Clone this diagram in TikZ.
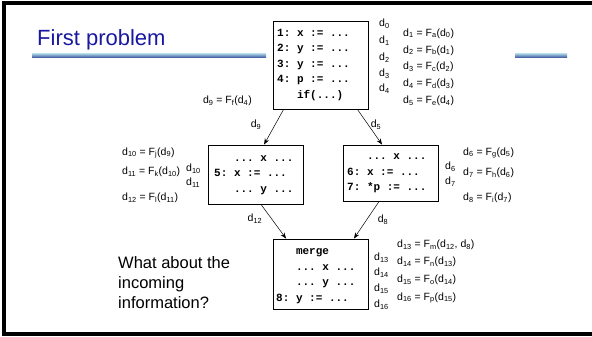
\documentclass[tikz,border=0pt]{standalone}
\usepackage{fontspec}
\setmainfont{Liberation Sans}
\setmonofont{Liberation Mono}
\usetikzlibrary{arrows.meta}
\newcommand\dsub[1]{d\textsubscript{#1}}
\newcommand\Fsub[1]{F\textsubscript{#1}}
\definecolor{titleblue}{RGB}{24,24,160}
\definecolor{linelight}{RGB}{170,210,228}
\definecolor{linedark}{RGB}{60,90,160}
\tikzset{
  lbl/.style={font=\fontsize{10.5}{12}\selectfont, inner sep=0pt, anchor=west},
  cbox/.style={draw=black, line width=0.9pt, minimum width=95pt, inner sep=0pt},
  code/.style={font=\fontsize{11}{15.5}\selectfont\ttfamily\bfseries, align=left, inner sep=0pt, anchor=west},
  flow/.style={line width=0.5pt, -{Stealth[length=6pt,width=4.5pt]}},
}
\begin{document}
\begin{tikzpicture}[x=1pt,y=-1pt]
\useasboundingbox (0,0) rectangle (592,337);
% frame
\draw[line width=4pt, line cap=butt, line join=miter] (592,3.5) -- (4,3.5) -- (4,334) -- (592,334);
% title
\node[anchor=base west, inner sep=0pt, text=titleblue, font=\fontsize{22}{24}\selectfont] (title) at (37,46) {First problem};
\shade[top color=linelight, bottom color=linedark] (32,53.5) rectangle (266,57.5);
\shade[top color=linelight, bottom color=linedark] (515,53.5) rectangle (567,57.5);
% boxes
\node[cbox, minimum height=88pt] (b1) at (320.5,65) {};
\node[code] (c1) at (277,65) {1:~x~:=~...\\2:~y~:=~...\\3:~y~:=~...\\4:~p~:=~...\\~~~if(...)};
\node[cbox, minimum height=59pt] (b5) at (256,174.5) {};
\node[code] (c5) at (214,175) {~~~...~x~...\\5:~x~:=~...\\~~~...~y~...};
\node[cbox, minimum height=56pt] (b6) at (391,173) {};
\node[code] (c6) at (347,173.5) {~~~...~x~...\\6:~x~:=~...\\7:~*p~:=~...};
\node[cbox, minimum height=70pt] (bm) at (321,274) {};
\node[code] (cm) at (276,276) {~~~merge\\~~~...~x~...\\~~~...~y~...\\8:~y~:=~...};
% arrows
\draw[flow] ([xshift=11pt]b1.south west) -- ([xshift=56pt]b5.north west);
\draw[flow] ([xshift=-11pt]b1.south east) -- ([xshift=39pt]b6.north west);
\draw[flow] ([xshift=53pt]b5.south west) -- ([xshift=13pt]bm.north west);
\draw[flow] ([xshift=36pt]b6.south west) -- ([xshift=-15pt]bm.north east);
% top box labels
\node[lbl] (d0) at (379,24) {\dsub{0}};
\node[lbl] (d1) at (379,41) {\dsub{1}};
\node[lbl] (d2) at (379,57.5) {\dsub{2}};
\node[lbl] (d3) at (379,73.5) {\dsub{3}};
\node[lbl] (d4) at (379,89) {\dsub{4}};
\node[lbl] (e1) at (403,33.5) {\dsub{1} = \Fsub{a}(\dsub{0})};
\node[lbl] (e2) at (403,50.3) {\dsub{2} = \Fsub{b}(\dsub{1})};
\node[lbl] (e3) at (403,67.1) {\dsub{3} = \Fsub{c}(\dsub{2})};
\node[lbl] (e4) at (403,83.9) {\dsub{4} = \Fsub{d}(\dsub{3})};
\node[lbl] (e5) at (403,100.7) {\dsub{5} = \Fsub{e}(\dsub{4})};
\node[lbl, anchor=east] (e9) at (252,101) {\dsub{9} = \Fsub{f}(\dsub{4})};
\node[lbl, anchor=center] (d9) at (256,125) {\dsub{9}};
\node[lbl, anchor=center] (d5) at (376,125) {\dsub{5}};
% box 5 labels
\node[lbl] (e10) at (122,153) {\dsub{10} = \Fsub{j}(\dsub{9})};
\node[lbl] (e11) at (122,172) {\dsub{11} = \Fsub{k}(\dsub{10})};
\node[lbl] (e12) at (122,198) {\dsub{12} = \Fsub{l}(\dsub{11})};
\node[lbl] (d10) at (186,169) {\dsub{10}};
\node[lbl] (d11) at (186,183) {\dsub{11}};
\node[lbl, anchor=center] (d12) at (255,219) {\dsub{12}};
% box 6 labels
\node[lbl] (d6) at (445,167) {\dsub{6}};
\node[lbl] (d7) at (445,182) {\dsub{7}};
\node[lbl] (e6) at (463,153) {\dsub{6} = \Fsub{g}(\dsub{5})};
\node[lbl] (e7) at (463,173) {\dsub{7} = \Fsub{h}(\dsub{6})};
\node[lbl] (e8) at (463,198) {\dsub{8} = \Fsub{i}(\dsub{7})};
\node[lbl, anchor=center] (d8) at (383,220) {\dsub{8}};
% merge labels
\node[lbl] (d13) at (374,258) {\dsub{13}};
\node[lbl] (d14) at (374,273) {\dsub{14}};
\node[lbl] (d15) at (374,289) {\dsub{15}};
\node[lbl] (d16) at (374,305) {\dsub{16}};
\node[lbl] (e13) at (397,245) {\dsub{13} = \Fsub{m}(\dsub{12}, \dsub{8})};
\node[lbl] (e14) at (397,262) {\dsub{14} = \Fsub{n}(\dsub{13})};
\node[lbl] (e15) at (397,280) {\dsub{15} = \Fsub{o}(\dsub{14})};
\node[lbl] (e16) at (397,298) {\dsub{16} = \Fsub{p}(\dsub{15})};
% question
\node[anchor=west, inner sep=0pt, align=left, font=\fontsize{16.5}{20}\selectfont] (q) at (118,283) {What about the\\incoming\\information?};
\end{tikzpicture}
\end{document}
